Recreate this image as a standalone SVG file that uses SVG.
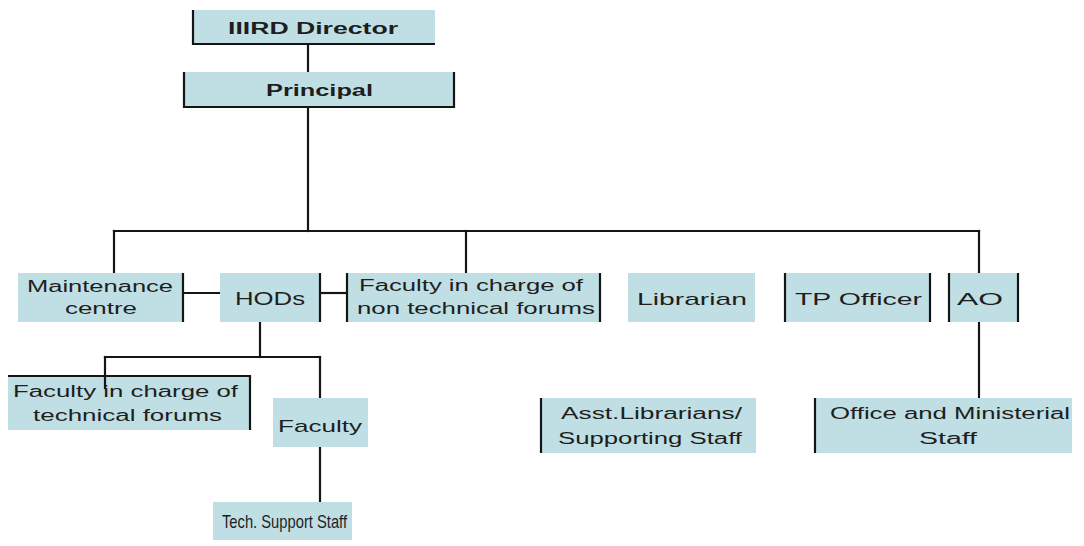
<svg xmlns="http://www.w3.org/2000/svg" width="1084" height="546" viewBox="0 0 1084 546">
<defs>
<style>
.box{fill:#c0dfe4;}
.edge{stroke:#151515;stroke-width:2.2;fill:none;}
.con{stroke:#151515;stroke-width:2.2;fill:none;stroke-linecap:square;}
text{font-family:"Liberation Sans",Arial,sans-serif;fill:#1e1e1e;font-size:16px;}
.b{font-weight:bold;}
</style>
</defs>
<rect width="1084" height="546" fill="#ffffff"/>
<g id="connectors">
<line class="con" x1="308" y1="44" x2="308" y2="72"/>
<line class="con" x1="308" y1="107" x2="308" y2="231"/>
<line class="con" x1="114" y1="231" x2="979" y2="231"/>
<line class="con" x1="114" y1="231" x2="114" y2="273"/>
<line class="con" x1="466" y1="231" x2="466" y2="273"/>
<line class="con" x1="979" y1="231" x2="979" y2="273"/>
<line class="con" x1="183" y1="293" x2="220" y2="293"/>
<line class="con" x1="320" y1="293" x2="347" y2="293"/>
<line class="con" x1="260" y1="322" x2="260" y2="357"/>
<line class="con" x1="105" y1="357" x2="320" y2="357"/>
<line class="con" x1="320" y1="357" x2="320" y2="398"/>
<line class="con" x1="320" y1="447" x2="320" y2="502"/>
<line class="con" x1="979" y1="322" x2="979" y2="398"/>
</g>
<g id="director">
<rect class="box" x="193" y="10" width="242" height="34"/>
<polyline class="edge" points="193,10 193,44 435,44"/>
<text class="b" x="228" y="34" textLength="170" lengthAdjust="spacingAndGlyphs">IIIRD Director</text>
</g>
<g id="principal">
<rect class="box" x="184" y="72" width="270" height="35"/>
<polyline class="edge" points="184,72 184,107 454,107 454,72"/>
<text class="b" x="266" y="96" textLength="107" lengthAdjust="spacingAndGlyphs">Principal</text>
</g>
<g id="maintenance">
<rect class="box" x="18" y="273" width="165" height="49"/>
<line class="edge" x1="183" y1="273" x2="183" y2="322"/>
<text x="27" y="292" textLength="146" lengthAdjust="spacingAndGlyphs">Maintenance</text>
<text x="65" y="314" textLength="72" lengthAdjust="spacingAndGlyphs">centre</text>
</g>
<g id="hcds">
<rect class="box" x="220" y="273" width="100" height="49"/>
<line class="edge" x1="320" y1="273" x2="320" y2="322"/>
<text x="235" y="305" style="font-size:18px" textLength="70" lengthAdjust="spacingAndGlyphs">HODs</text>
</g>
<g id="faculty-nontech">
<rect class="box" x="347" y="273" width="253" height="49"/>
<line class="edge" x1="347" y1="273" x2="347" y2="322"/>
<line class="edge" x1="600" y1="273" x2="600" y2="322"/>
<text x="359" y="291" textLength="224" lengthAdjust="spacingAndGlyphs">Faculty in charge of</text>
<text x="357" y="314" textLength="238" lengthAdjust="spacingAndGlyphs">non technical forums</text>
</g>
<g id="librarian">
<rect class="box" x="628" y="273" width="127" height="49"/>
<text x="637" y="305" style="font-size:17px" textLength="110" lengthAdjust="spacingAndGlyphs">Librarian</text>
</g>
<g id="tp-officer">
<rect class="box" x="785" y="273" width="145" height="49"/>
<line class="edge" x1="785" y1="273" x2="785" y2="322"/>
<line class="edge" x1="930" y1="273" x2="930" y2="322"/>
<text x="795" y="305" style="font-size:17px" textLength="127" lengthAdjust="spacingAndGlyphs">TP Officer</text>
</g>
<g id="ao">
<rect class="box" x="949" y="273" width="69" height="49"/>
<line class="edge" x1="949" y1="273" x2="949" y2="322"/>
<line class="edge" x1="1018" y1="273" x2="1018" y2="322"/>
<text x="957" y="305" style="font-size:17px" textLength="46" lengthAdjust="spacingAndGlyphs">AO</text>
</g>
<g id="faculty-tech">
<rect class="box" x="8" y="376" width="242" height="54"/>
<polyline class="edge" points="8,376 250,376 250,430"/>
<text x="13" y="397" textLength="225" lengthAdjust="spacingAndGlyphs">Faculty in charge of</text>
<text x="33" y="421" textLength="189" lengthAdjust="spacingAndGlyphs">technical forums</text>
</g>
<line class="con" x1="105" y1="357" x2="105" y2="388"/>
<g id="faculty">
<rect class="box" x="273" y="398" width="95" height="49"/>
<text x="278" y="432" style="font-size:17px" textLength="84" lengthAdjust="spacingAndGlyphs">Faculty</text>
</g>
<g id="asst-librarians">
<rect class="box" x="541" y="398" width="215" height="55"/>
<line class="edge" x1="541" y1="398" x2="541" y2="453"/>
<text x="561" y="419" textLength="181" lengthAdjust="spacingAndGlyphs">Asst.Librarians/</text>
<text x="558" y="444" textLength="184" lengthAdjust="spacingAndGlyphs">Supporting Staff</text>
</g>
<g id="office">
<rect class="box" x="815" y="398" width="257" height="55"/>
<line class="edge" x1="815" y1="398" x2="815" y2="453"/>
<text x="830" y="419" textLength="240" lengthAdjust="spacingAndGlyphs">Office and Ministerial</text>
<text x="919" y="444" textLength="58" lengthAdjust="spacingAndGlyphs">Staff</text>
</g>
<g id="tech-support">
<rect class="box" x="213" y="502" width="139" height="38"/>
<text x="222" y="528" style="font-size:19px" textLength="125" lengthAdjust="spacingAndGlyphs">Tech. Support Staff</text>
</g>
</svg>
